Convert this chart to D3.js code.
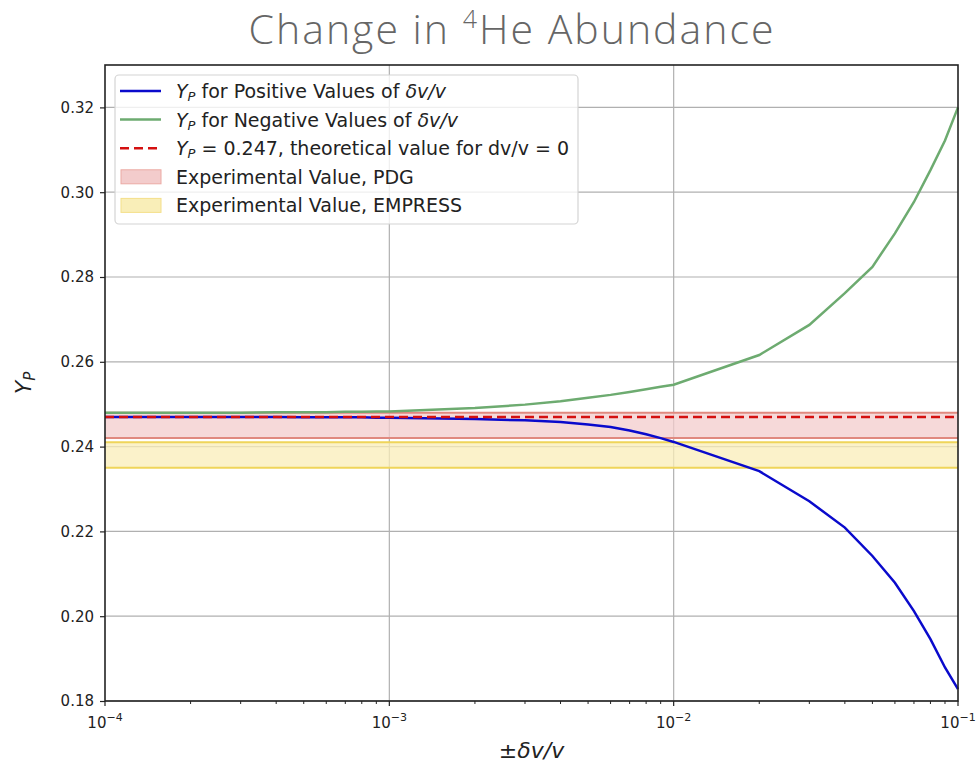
<!DOCTYPE html>
<html>
<head>
<meta charset="utf-8">
<script src="https://cdn.jsdelivr.net/npm/d3@7"></script>
<style>
  html, body { margin: 0; padding: 0; background: #fff; }
  svg { display: block; }
</style>
</head>
<body>
<svg id="chart" width="979" height="765"></svg>
<script>
// Fractional change in the parameter (|δv/v|)
const deltaV = [
  1e-4, 2e-4, 3e-4, 4e-4, 5e-4, 6e-4, 7e-4, 8e-4, 9e-4,
  1e-3, 2e-3, 3e-3, 4e-3, 5e-3, 6e-3, 7e-3, 8e-3, 9e-3,
  1e-2, 2e-2, 3e-2, 4e-2, 5e-2, 6e-2, 7e-2, 8e-2, 9e-2,
  1e-1
];
// Helium-4 mass fraction for positive shifts
const ypPositive = [
  0.2470, 0.2470, 0.2470, 0.2470, 0.2469, 0.2469, 0.2469, 0.2469, 0.2468,
  0.2468, 0.2465, 0.2462, 0.2458, 0.2452, 0.2446, 0.2438, 0.2429, 0.2420,
  0.2411, 0.2342, 0.2271, 0.2209, 0.2142, 0.2079, 0.2012, 0.1946, 0.1879,
  0.1828
];
// Helium-4 mass fraction for negative shifts
const ypNegative = [
  0.2480, 0.2480, 0.2480, 0.2481, 0.2481, 0.2481, 0.2482, 0.2482, 0.2483,
  0.2483, 0.2491, 0.2499, 0.2507, 0.2515, 0.2522, 0.2529, 0.2535, 0.2541,
  0.2546, 0.2616, 0.2687, 0.2762, 0.2824, 0.2903, 0.2977, 0.3052, 0.3122,
  0.3200
];
const ypTheory = 0.247;
// Measured ranges [low, high]
const pdgBand = [0.242, 0.248];
const empressBand = [0.235, 0.241];

const yTicks = [0.18, 0.20, 0.22, 0.24, 0.26, 0.28, 0.30, 0.32];
const xTicks = [1e-4, 1e-3, 1e-2, 1e-1];
const xTickExps = ["\u22124", "\u22123", "\u22122", "\u22121"];

const svg = d3.select("#chart");
const margin = { left: 105, right: 21, top: 65, bottom: 64 };
const W = 979, H = 765;
const x0 = margin.left, x1 = W - margin.right;
const y0 = margin.top, y1 = H - margin.bottom;

const x = d3.scaleLog().domain([1e-4, 1e-1]).range([x0, x1]);
const y = d3.scaleLinear().domain([0.18, 0.33]).range([y1, y0]);

const tickFont = "DejaVu Sans, sans-serif";

// Title
const title = svg.append("text")
  .attr("x", 512).attr("y", 44)
  .attr("text-anchor", "middle")
  .attr("font-family", "Open Sans, sans-serif")
  .attr("font-weight", 300)
  .attr("font-size", 41)
  .attr("letter-spacing", 2)
  .attr("fill", "#666");
title.append("tspan").text("Change in ");
title.append("tspan").attr("font-size", 25).attr("dy", -16).text("4");
title.append("tspan").attr("dy", 16).text("He Abundance");

// Gridlines
const grid = svg.append("g").attr("stroke", "#b0b0b0").attr("stroke-width", 1.2);
grid.selectAll("line.gy").data(yTicks).join("line")
  .attr("x1", x0).attr("x2", x1)
  .attr("y1", d => y(d)).attr("y2", d => y(d));
grid.selectAll("line.gx").data(xTicks.slice(1, -1)).join("line")
  .attr("y1", y0).attr("y2", y1)
  .attr("x1", d => x(d)).attr("x2", d => x(d));

const plot = svg.append("g");

// Measured bands
function band(b, fill, edge) {
  plot.append("rect")
    .attr("x", x0).attr("width", x1 - x0)
    .attr("y", y(b[1])).attr("height", y(b[0]) - y(b[1]))
    .attr("fill", fill).attr("fill-opacity", 0.75);
  [b[0], b[1]].forEach(v => {
    plot.append("line")
      .attr("x1", x0).attr("x2", x1)
      .attr("y1", y(v)).attr("y2", y(v))
      .attr("stroke", edge).attr("stroke-width", 2);
  });
}
band(pdgBand, "#f3cccc", "#e0897f");
band(empressBand, "#f9eeb8", "#efd55a");

const line = d3.line().x(d => x(d[0])).y(d => y(d[1]));

plot.append("path")
  .datum(deltaV.map((v, i) => [v, ypPositive[i]]))
  .attr("d", line).attr("fill", "none")
  .attr("stroke", "#0a0acc").attr("stroke-width", 2.5);

plot.append("path")
  .datum(deltaV.map((v, i) => [v, ypNegative[i]]))
  .attr("d", line).attr("fill", "none")
  .attr("stroke", "#6dab70").attr("stroke-width", 2.5);

plot.append("line")
  .attr("x1", x0).attr("x2", x1)
  .attr("y1", y(ypTheory)).attr("y2", y(ypTheory))
  .attr("stroke", "#d41010").attr("stroke-width", 2.5)
  .attr("stroke-dasharray", "9,5");

// Axes
const yAxis = d3.axisLeft(y).tickValues(yTicks).tickFormat(d3.format(".2f"))
  .tickSize(5).tickPadding(6);
const gy = svg.append("g").attr("transform", `translate(${x0},0)`).call(yAxis);
gy.select(".domain").remove();
gy.selectAll("line").attr("stroke", "#222").attr("stroke-width", 1.2);
gy.selectAll("text").attr("font-family", tickFont).attr("font-size", 15).attr("fill", "#222");

// Minor ticks on the log axis
const minor = [];
for (let e = -4; e < -1; e++) for (let m = 2; m <= 9; m++) minor.push(m * Math.pow(10, e));
svg.append("g").selectAll("line").data(minor).join("line")
  .attr("x1", d => x(d)).attr("x2", d => x(d))
  .attr("y1", y1).attr("y2", y1 + 3)
  .attr("stroke", "#222").attr("stroke-width", 1);
svg.append("g").selectAll("line").data(xTicks).join("line")
  .attr("x1", d => x(d)).attr("x2", d => x(d))
  .attr("y1", y1).attr("y2", y1 + 5)
  .attr("stroke", "#222").attr("stroke-width", 1.2);

const xl = svg.append("g").selectAll("text").data(xTicks).join("text")
  .attr("x", d => x(d)).attr("y", y1 + 27)
  .attr("text-anchor", "middle")
  .attr("font-family", tickFont).attr("font-size", 15).attr("fill", "#222");
xl.append("tspan").text("10");
xl.append("tspan").attr("font-size", 11).attr("dy", -7).text((d, i) => xTickExps[i]);

// Frame
svg.append("rect")
  .attr("x", x0).attr("y", y0).attr("width", x1 - x0).attr("height", y1 - y0)
  .attr("fill", "none").attr("stroke", "#222").attr("stroke-width", 1.6);

// Axis labels
const xlab = svg.append("text")
  .attr("x", (x0 + x1) / 2).attr("y", 758)
  .attr("text-anchor", "middle")
  .attr("font-family", tickFont).attr("font-size", 22).attr("fill", "#222");
xlab.append("tspan").text("\u00b1");
xlab.append("tspan").attr("font-style", "italic").text("\u03b4v/v");

const ylab = svg.append("text")
  .attr("transform", `translate(31,${(y0 + y1) / 2}) rotate(-90)`)
  .attr("text-anchor", "middle")
  .attr("font-family", tickFont).attr("font-size", 22).attr("fill", "#222")
  .attr("font-style", "italic");
ylab.append("tspan").text("Y");
ylab.append("tspan").attr("font-size", 15).attr("dy", 4).text("P");

// Legend
const lg = svg.append("g");
lg.append("rect")
  .attr("x", 115).attr("y", 75).attr("width", 463).attr("height", 149)
  .attr("rx", 4).attr("fill", "#fff").attr("fill-opacity", 0.8)
  .attr("stroke", "#d4d4d4").attr("stroke-width", 1.2);

const legendFont = 19;
const rows = [
  { kind: "line", color: "#0a0acc", label: ["Y", "P", " for Positive Values of ", "\u03b4v/v", ""] },
  { kind: "line", color: "#6dab70", label: ["Y", "P", " for Negative Values of ", "\u03b4v/v", ""] },
  { kind: "dash", color: "#d41010", label: ["Y", "P", " = 0.247, theoretical value for dv/v = 0", "", ""] },
  { kind: "patch", color: "#f3cccc", edge: "#ecaaa4", label: ["", "", "Experimental Value, PDG", "", ""] },
  { kind: "patch", color: "#f9eeb8", edge: "#f4df8a", label: ["", "", "Experimental Value, EMPRESS", "", ""] }
];
rows.forEach((r, i) => {
  const cy = 91 + i * 28.6;
  if (r.kind === "patch") {
    lg.append("rect").attr("x", 121).attr("y", cy - 7).attr("width", 40).attr("height", 14)
      .attr("fill", r.color).attr("stroke", r.edge).attr("stroke-width", 1);
  } else {
    lg.append("line").attr("x1", 120).attr("x2", 161).attr("y1", cy).attr("y2", cy)
      .attr("stroke", r.color).attr("stroke-width", 2.5)
      .attr("stroke-dasharray", r.kind === "dash" ? "9,5" : null);
  }
  const t = lg.append("text").attr("x", 176).attr("y", cy + 7)
    .attr("font-family", tickFont).attr("font-size", legendFont).attr("fill", "#222");
  if (r.label[0]) {
    t.append("tspan").attr("font-style", "italic").text(r.label[0]);
    t.append("tspan").attr("font-style", "italic").attr("font-size", 13).attr("dy", 3).text(r.label[1]);
    t.append("tspan").attr("dy", -3).text(r.label[2]);
  } else {
    t.append("tspan").text(r.label[2]);
  }
  if (r.label[3]) t.append("tspan").attr("font-style", "italic").text(r.label[3]);
});
</script>
</body>
</html>
